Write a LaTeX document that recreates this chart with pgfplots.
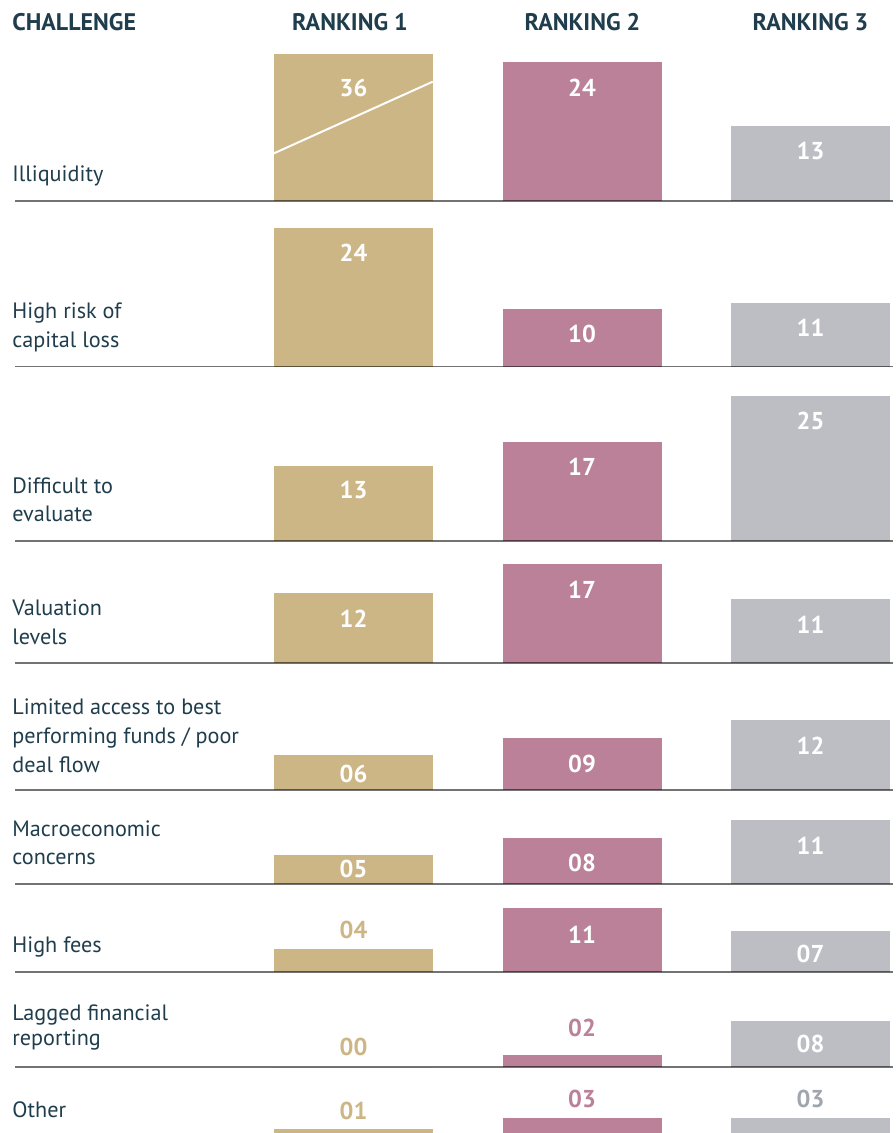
\documentclass[border=0pt]{standalone}
\usepackage{fontspec}
\setmainfont{PT Sans}
\usepackage{pgfplots}
\pgfplotsset{compat=1.18}
\definecolor{navy}{RGB}{31,61,76}
\definecolor{gold}{RGB}{205,182,134}
\definecolor{mauve}{RGB}{186,129,152}
\definecolor{grayb}{RGB}{188,190,195}
\definecolor{graylab}{RGB}{160,166,174}
\pgfplotsset{
  rowaxis/.style={
    anchor=south west, x=114.25pt, y=2.9pt,
    xmin=-1.4814, xmax=2.3611, ymin=0, ymax=30,
    enlargelimits=false, axis lines=none, ticks=none,
    ybar, bar width=79.5pt,
    point meta=explicit symbolic,
  },
  bars/.style n args={3}{bar shift=0pt, fill=#1, draw=none,
    nodes near coords,
    every node near coord/.append style={anchor=center, yshift=#2, text=#3,
      font=\bfseries\fontsize{12.2}{13}\selectfont}},
}
\tikzset{rowline/.style={black, opacity=0.55, line width=0.85pt},
  rowlab/.style={anchor=base west, inner sep=0pt, text=navy, font=\fontsize{11.1}{13}\selectfont},
  head/.style={anchor=base, inner sep=0pt, text=navy, font=\bfseries\fontsize{12}{13}\selectfont}}
\begin{document}
\begin{tikzpicture}
\useasboundingbox (0,0) rectangle (447.5pt,-566.5pt);
% headers
\node[head, anchor=base west] at (6pt,-15.35pt) {CHALLENGE};
\node[head] at (175pt,-15.35pt) {RANKING 1};
\node[head] at (291.25pt,-15.35pt) {RANKING 2};
\node[head] at (405.25pt,-15.35pt) {RANKING 3};
% row labels
\node[rowlab] at (6pt,-91pt) {Illiquidity};
\node[rowlab] at (6pt,-159.15pt) {High risk of};
\node[rowlab] at (6pt,-173.65pt) {capital loss};
\node[rowlab] at (6pt,-246.65pt) {Difficult to};
\node[rowlab] at (6pt,-260.85pt) {evaluate};
\node[rowlab] at (6pt,-307.5pt) {Valuation};
\node[rowlab] at (6pt,-322pt) {levels};
\node[rowlab] at (6pt,-357.15pt) {Limited access to best};
\node[rowlab] at (6pt,-371.65pt) {performing funds / poor};
\node[rowlab] at (6pt,-386.15pt) {deal flow};
\node[rowlab] at (6pt,-418pt) {Macroeconomic};
\node[rowlab] at (6pt,-432.15pt) {concerns};
\node[rowlab] at (6pt,-476.15pt) {High fees};
\node[rowlab] at (6pt,-510.35pt) {Lagged financial};
\node[rowlab] at (6pt,-522.85pt) {reporting};
\node[rowlab] at (6pt,-558.65pt) {Other};

% Row 1: Illiquidity (36 is cut at the top of the row, as in the original)
\begin{axis}[rowaxis, at={(7.5pt,-100.5pt)}, ymax=25.34, clip=false]
\addplot[bars={gold}{-17pt}{white}, restrict y to domain*=0:25.34] coordinates {(0,36) [36]};
\addplot[bars={mauve}{-13.1pt}{white}] coordinates {(1,24) [24]};
\addplot[bars={grayb}{-12.7pt}{white}] coordinates {(2,13) [13]};
\draw[white, line width=1pt] (axis cs:-0.348,8.22) -- (axis cs:0.3466,20.57);
\draw[rowline] (rel axis cs:0,0) -- (rel axis cs:1,0);
\end{axis}
% Row 2: High risk of capital loss
\begin{axis}[rowaxis, at={(7.5pt,-183.5pt)}]
\addplot[bars={gold}{-12.6pt}{white}] coordinates {(0,24) [24]};
\addplot[bars={mauve}{-12.5pt}{white}] coordinates {(1,10) [10]};
\addplot[bars={grayb}{-12.4pt}{white}] coordinates {(2,11) [11]};
\draw[rowline] (rel axis cs:0,0) -- (rel axis cs:1,0);
\end{axis}
% Row 3: Difficult to evaluate
\begin{axis}[rowaxis, at={(7.5pt,-270.5pt)}]
\addplot[bars={gold}{-12.2pt}{white}] coordinates {(0,13) [13]};
\addplot[bars={mauve}{-12.3pt}{white}] coordinates {(1,17) [17]};
\addplot[bars={grayb}{-12.5pt}{white}] coordinates {(2,25) [25]};
\draw[rowline] (rel axis cs:0,0) -- (rel axis cs:1,0);
\end{axis}
% Row 4: Valuation levels
\begin{axis}[rowaxis, at={(7.5pt,-331.5pt)}]
\addplot[bars={gold}{-12.8pt}{white}] coordinates {(0,12) [12]};
\addplot[bars={mauve}{-12.8pt}{white}] coordinates {(1,17) [17]};
\addplot[bars={grayb}{-12.9pt}{white}] coordinates {(2,11) [11]};
\draw[rowline] (rel axis cs:0,0) -- (rel axis cs:1,0);
\end{axis}
% Row 5: Limited access
\begin{axis}[rowaxis, at={(7.5pt,-395pt)}]
\addplot[bars={gold}{-9.4pt}{white}] coordinates {(0,6) [06]};
\addplot[bars={mauve}{-13.1pt}{white}] coordinates {(1,9) [09]};
\addplot[bars={grayb}{-12.8pt}{white}] coordinates {(2,12) [12]};
\draw[rowline] (rel axis cs:0,0) -- (rel axis cs:1,0);
\end{axis}
% Row 6: Macroeconomic concerns
\begin{axis}[rowaxis, at={(7.5pt,-442pt)}]
\addplot[bars={gold}{-7pt}{white}] coordinates {(0,5) [05]};
\addplot[bars={mauve}{-12.7pt}{white}] coordinates {(1,8) [08]};
\addplot[bars={grayb}{-12.9pt}{white}] coordinates {(2,11) [11]};
\draw[rowline] (rel axis cs:0,0) -- (rel axis cs:1,0);
\end{axis}
% Row 7: High fees
\begin{axis}[rowaxis, at={(7.5pt,-486pt)}]
\addplot[bars={gold}{9.4pt}{gold}] coordinates {(0,4) [04]};
\addplot[bars={mauve}{-13.4pt}{white}] coordinates {(1,11) [11]};
\addplot[bars={grayb}{-11.3pt}{white}] coordinates {(2,7) [07]};
\draw[rowline] (rel axis cs:0,0) -- (rel axis cs:1,0);
\end{axis}
% Row 8: Lagged financial reporting
\begin{axis}[rowaxis, at={(7.5pt,-533.5pt)}]
\addplot[bars={gold}{10pt}{gold}] coordinates {(0,0) [00]};
\addplot[bars={mauve}{13.7pt}{mauve}] coordinates {(1,2) [02]};
\addplot[bars={grayb}{-11.7pt}{white}] coordinates {(2,8) [08]};
\draw[rowline] (rel axis cs:0,0) -- (rel axis cs:1,0);
\end{axis}
% Row 9: Other
\begin{axis}[rowaxis, at={(7.5pt,-567.5pt)}]
\addplot[bars={gold}{9.1pt}{gold}] coordinates {(0,1) [01]};
\addplot[bars={mauve}{9.3pt}{mauve}] coordinates {(1,3) [03]};
\addplot[bars={grayb}{9.3pt}{graylab}] coordinates {(2,3) [03]};
\draw[rowline] (rel axis cs:0,0) -- (rel axis cs:1,0);
\end{axis}
\end{tikzpicture}
\end{document}
